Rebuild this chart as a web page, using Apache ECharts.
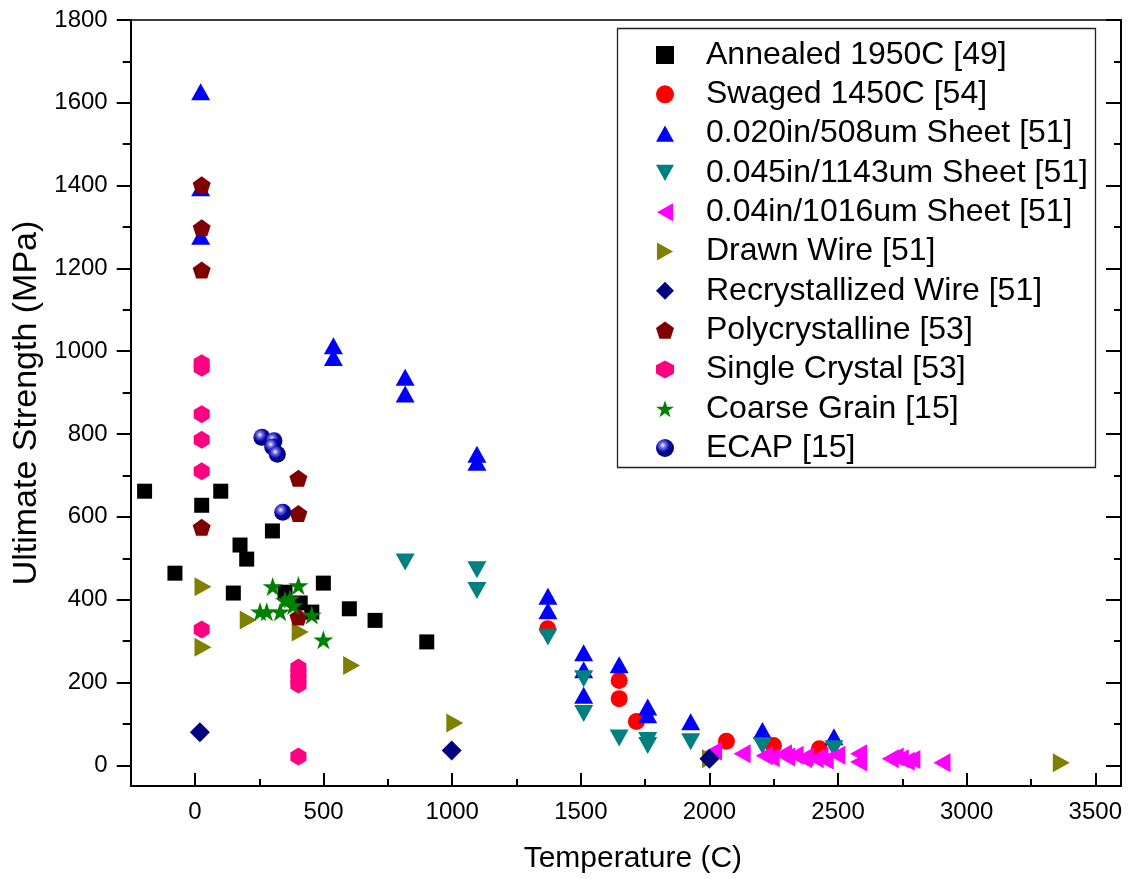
<!DOCTYPE html>
<html>
<head>
<meta charset="utf-8">
<script src="https://cdn.jsdelivr.net/npm/echarts@6/dist/echarts.min.js"></script>
<style>
html,body{margin:0;padding:0;background:#fff;}
#chart{width:1130px;height:879px;}
</style>
</head>
<body>
<div id="chart"></div>
<script>
// ---- Data (Temperature C, Ultimate Strength MPa) ----
const seriesNames = [
  'Annealed 1950C [49]',
  'Swaged 1450C [54]',
  '0.020in/508um Sheet [51]',
  '0.045in/1143um Sheet [51]',
  '0.04in/1016um Sheet [51]',
  'Drawn Wire [51]',
  'Recrystallized Wire [51]',
  'Polycrystalline [53]',
  'Single Crystal [53]',
  'Coarse Grain [15]',
  'ECAP [15]'
];
const annealed = [[-196,662],[26,628],[100,662],[175,532],[201,498],[301,566],[-78,464],[149,416],[350,418],[409,392],[454,370],[499,440],[600,378],[700,350],[901,298]];
const swaged = [[1371,330],[1649,205],[1649,161],[1716,106],[2066,58],[2249,48],[2427,40]];
const sheet020 = [[22,1627],[22,1395],[22,1278],[538,1013],[538,985],[817,937],[817,897],[1096,751],[1096,732],[1372,408],[1372,373],[1511,272],[1511,231],[1511,169],[1649,243],[1760,141],[1760,122],[1927,105],[2206,84],[2484,69]];
const sheet045 = [[817,491],[1096,472],[1096,422],[1372,310],[1511,209],[1511,125],[1649,66],[1760,60],[1760,48],[1927,57],[2206,47],[2484,40]];
const sheet04 = [[2016,34],[2127,28],[2213,23],[2240,18],[2288,28],[2300,20],[2333,24],[2366,16],[2372,20],[2411,16],[2430,20],[2450,12],[2495,24],[2580,28],[2580,8],[2703,16],[2722,20],[2742,16],[2765,10],[2787,14],[2904,6]];
const drawnWire = [[31,431],[31,285],[207,351],[409,322],[609,241],[1010,102],[2004,16],[3368,6]];
const recrystWire = [[19,80],[998,36],[2000,16]];
const polycrystalline = [[26,1402],[26,1298],[26,1196],[26,575],[402,693],[402,608],[402,358]];
const singleCrystal = [[26,971],[26,960],[26,848],[26,786],[26,710],[26,328],[402,236],[402,222],[402,208],[402,195],[402,21]];
const coarseGrain = [[253,371],[279,371],[302,432],[331,371],[350,398],[369,402],[382,386],[402,434],[454,363],[499,303]];
const ecap = [[260,792],[307,784],[302,769],[320,751],[341,611]];

// ---- Tick values ----
const xMajor = [0,500,1000,1500,2000,2500,3000,3500];
const xMinor = [-250,250,750,1250,1750,2250,2750,3250];
const yMajor = [0,200,400,600,800,1000,1200,1400,1600,1800];
const yMinor = [100,300,500,700,900,1100,1300,1500,1700];

const FONT = '"Liberation Sans", Arial, Helvetica, sans-serif';
const X_MIN = -250, X_MAX = 3600, Y_MIN = -50, Y_MAX = 1800;

const pentagon = 'path://M0,-1L0.951,-0.309L0.588,0.809L-0.588,0.809L-0.951,-0.309Z';
const hexagon = 'path://M0.5,0L1,0.27L1,0.73L0.5,1L0,0.73L0,0.27Z';
const star = 'path://M0,-1L0.2245,-0.309L0.951,-0.309L0.363,0.118L0.588,0.809L0,0.382L-0.588,0.809L-0.363,0.118L-0.951,-0.309L-0.2245,-0.309Z';
const triUp = 'path://M9.5,0L19,17L0,17Z';
const triDown = 'path://M0,0L19,0L9.5,17Z';
const triLeft = 'path://M0,9.5L17,0L17,19Z';
const triRight = 'path://M0,0L17,9.5L0,19Z';

const sphere = {
  type: 'radial', x: 0.38, y: 0.35, r: 0.7,
  colorStops: [
    {offset: 0, color: '#ffffff'},
    {offset: 0.22, color: '#7070e0'},
    {offset: 0.55, color: '#0000a8'},
    {offset: 1, color: '#00005a'}
  ]
};

function sc(name, data, symbol, size, color, rotate) {
  return {
    name: name, type: 'scatter', data: data,
    xAxisIndex: 0, yAxisIndex: 0,
    symbol: symbol, symbolSize: size, symbolRotate: rotate || 0,
    itemStyle: {color: color, opacity: 1},
    emphasis: {disabled: true}
  };
}

const series = [
  sc(seriesNames[0], annealed, 'rect', 15, '#000000'),
  sc(seriesNames[1], swaged, 'circle', 17, '#ff0000'),
  sc(seriesNames[2], sheet020, 'triangle', [19,17], '#0000ff'),
  sc(seriesNames[3], sheet045, 'triangle', [19,17], '#008080', 180),
  sc(seriesNames[4], sheet04, 'triangle', [19,17], '#ff00ff', 90),
  sc(seriesNames[5], drawnWire, 'triangle', [19,17], '#808000', -90),
  sc(seriesNames[6], recrystWire, 'diamond', 20, '#000080'),
  sc(seriesNames[7], polycrystalline, pentagon, [18,17], '#800000'),
  sc(seriesNames[8], singleCrystal, hexagon, [16,18], '#ff0080'),
  sc(seriesNames[9], coarseGrain, star, [20,19], '#008000'),
  sc(seriesNames[10], ecap, 'circle', 17, sphere)
];

// legend icons (explicit, so orientation shows in the key)
const legendIcons = ['rect', 'circle', triUp, triDown, triLeft, triRight, 'diamond', pentagon, hexagon, star, 'circle'];

const chart = echarts.init(document.getElementById('chart'), null, {renderer: 'canvas'});
chart.setOption({
  backgroundColor: '#ffffff',
  animation: false,
  textStyle: {fontFamily: FONT},
  grid: {left: 130.7, right: 9, top: 20, bottom: 92, containLabel: false},
  xAxis: [
    {
      type: 'value', min: X_MIN, max: X_MAX, position: 'bottom',
      name: 'Temperature (C)', nameLocation: 'middle', nameGap: 58,
      nameTextStyle: {fontSize: 30, color: '#000', fontFamily: FONT, padding: [0, 0, 0, 14]},
      axisLine: {onZero: false, lineStyle: {color: '#000', width: 2}},
      axisTick: {show: true, inside: true, length: 13, lineStyle: {color: '#000', width: 2}, customValues: xMajor},
      axisLabel: {show: true, customValues: xMajor, fontSize: 24, color: '#000', margin: 14, fontFamily: FONT,
                  formatter: function (v) { return String(v); }},
      splitLine: {show: false}
    },
    {
      type: 'value', min: X_MIN, max: X_MAX, position: 'bottom',
      axisLine: {show: false, onZero: false},
      axisTick: {show: true, inside: true, length: 7, lineStyle: {color: '#000', width: 2}, customValues: xMinor},
      axisLabel: {show: false},
      splitLine: {show: false}
    },
    {
      type: 'value', min: X_MIN, max: X_MAX, position: 'top',
      axisLine: {show: true, onZero: false, lineStyle: {color: '#000', width: 1.5}},
      axisTick: {show: false}, axisLabel: {show: false}, splitLine: {show: false}
    }
  ],
  yAxis: [
    {
      type: 'value', min: Y_MIN, max: Y_MAX, position: 'left',
      name: 'Ultimate Strength (MPa)', nameLocation: 'middle', nameRotate: 90, nameGap: 79,
      nameTextStyle: {fontSize: 34, color: '#000', fontFamily: FONT},
      axisLine: {show: true, onZero: false, lineStyle: {color: '#000', width: 2}},
      axisTick: {show: true, inside: false, length: 14, lineStyle: {color: '#000', width: 2}, customValues: yMajor},
      axisLabel: {show: true, customValues: yMajor, fontSize: 24, color: '#000', margin: 23, fontFamily: FONT,
                  formatter: function (v) { return String(v); }},
      splitLine: {show: false}
    },
    {
      type: 'value', min: Y_MIN, max: Y_MAX, position: 'left',
      axisLine: {show: false, onZero: false},
      axisTick: {show: true, inside: false, length: 8, lineStyle: {color: '#000', width: 2}, customValues: yMinor},
      axisLabel: {show: false}, splitLine: {show: false}
    },
    {
      type: 'value', min: Y_MIN, max: Y_MAX, position: 'right',
      axisLine: {show: true, onZero: false, lineStyle: {color: '#000', width: 2}},
      axisTick: {show: true, inside: true, length: 15, lineStyle: {color: '#000', width: 2}, customValues: yMajor},
      axisLabel: {show: false}, splitLine: {show: false}
    },
    {
      type: 'value', min: Y_MIN, max: Y_MAX, position: 'right',
      axisLine: {show: false, onZero: false},
      axisTick: {show: true, inside: true, length: 7, lineStyle: {color: '#000', width: 2}, customValues: yMinor},
      axisLabel: {show: false}, splitLine: {show: false}
    }
  ],
  legend: {
    show: true, orient: 'vertical', left: 651, top: 34,
    itemWidth: 18, itemHeight: 18, itemGap: 7.3,
    selectedMode: false,
    symbolRotate: 0,
    textStyle: {fontSize: 32, lineHeight: 30, color: '#000', fontFamily: FONT, padding: [0, 0, 0, 27]},
    data: seriesNames.map(function (n, i) {
      return {name: n, icon: legendIcons[i]};
    })
  },
  graphic: [
    {type: 'rect', shape: {x: 617.5, y: 28.5, width: 478, height: 439}, style: {fill: 'transparent', stroke: '#222', lineWidth: 1.3}, silent: true, z: 10}
  ],
  series: series
});
</script>
</body>
</html>
